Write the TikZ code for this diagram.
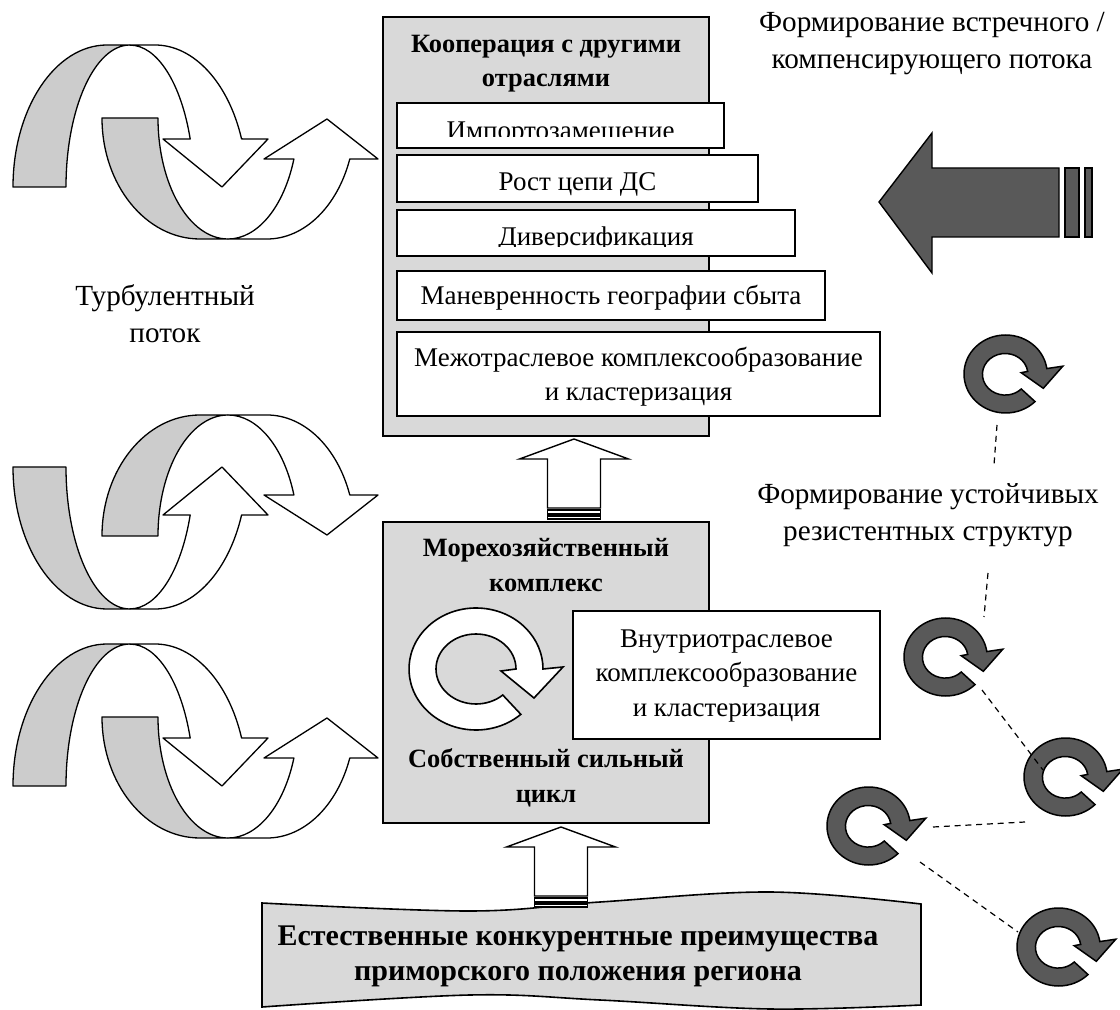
\documentclass[tikz,border=0pt]{standalone}
\usepackage{fontspec}
\setmainfont{Liberation Serif}
\usetikzlibrary{positioning}

\definecolor{boxgray}{HTML}{D9D9D9}
\definecolor{backgray}{HTML}{CCCCCC}
\definecolor{cycgray}{HTML}{595959}

\tikzset{
  panel/.style={draw, fill=boxgray, line width=0.8pt, inner sep=0pt},
  card/.style={draw, fill=white, line width=0.8pt, inner sep=0pt},
  txt/.style={font=\fontsize{13.5}{17.2}\selectfont, inner sep=0pt, align=center},
  label/.style={font=\fontsize{14.6}{18.5}\selectfont, inner sep=0pt, align=center},
  head/.style={font=\bfseries\fontsize{13.2}{17.8}\selectfont, inner sep=0pt, align=center},
  ribbon/.style={draw, line width=0.65pt, line join=round},
  link/.style={dash pattern=on 3pt off 2.4pt, line width=0.6pt},
  pics/cyc/.style={code={
    \draw[pic actions] (48:67 and 61) arc[start angle=48, end angle=360, x radius=67, y radius=61]
      -- (87,-2) -- (58,29) -- (25,2) -- (40,0)
      arc[start angle=360, end angle=48, x radius=40, y radius=35] -- cycle;
  }},
  pics/cycdark/.style={code={
    \draw[pic actions] (45:64 and 60) arc[start angle=45, end angle=352, x radius=64, y radius=60]
      -- (88,-12) -- (58,22) -- (24,-2) -- (34,-4)
      arc[start angle=352, end angle=45, x radius=35, y radius=32] -- cycle;
  }},
  pics/blockup/.style={code={
    \draw[pic actions] (0,0) -- (54.5,20) -- (26.5,20) -- (26.5,69) -- (-26.5,69) -- (-26.5,20) -- (-54.5,20) -- cycle;
    \draw[pic actions] (-26.5,71) rectangle (26.5,75);
    \draw[pic actions] (-26.5,77) rectangle (26.5,80);
  }}
}

% two ribbons of one turbulent swirl
\newcommand{\swirlpair}{%
  \filldraw[ribbon, fill=backgray] (102,118) arc[start angle=180, end angle=90, x radius=98, y radius=121]
    -- (228,239) arc[start angle=90, end angle=180, x radius=70, y radius=121] -- cycle;
  \filldraw[ribbon, fill=white] (228,239) -- (267,239) arc[start angle=90, end angle=19.8, x radius=88, y radius=121]
    -- (378,159) -- (327,119) -- (264,159) -- (293.9,159)
    arc[start angle=19.8, end angle=90, x radius=70, y radius=121] -- cycle;
  \filldraw[ribbon, fill=backgray] (13,187) arc[start angle=180, end angle=270, x radius=94, y radius=142]
    -- (130,45) arc[start angle=270, end angle=180, x radius=64, y radius=142] -- cycle;
  \filldraw[ribbon, fill=white] (130,45) -- (155,45) arc[start angle=270, end angle=340.2, x radius=92, y radius=142]
    -- (268,139) -- (222,187) -- (163,139) -- (190.2,139)
    arc[start angle=340.2, end angle=270, x radius=64, y radius=142] -- cycle;
}

\begin{document}
\begin{tikzpicture}[x=0.5pt, y=-0.5pt]
  \useasboundingbox (0,0) rectangle (1120,1010);

  % turbulent flow
  \swirlpair
  \begin{scope}[shift={(0,654)}, yscale=-1]
    \swirlpair
  \end{scope}
  \begin{scope}[shift={(0,599)}]
    \swirlpair
  \end{scope}
  \node[label] (turb) at (165,314) {Турбулентный\\поток};

  % upper block
  \node[panel, minimum width=163pt, minimum height=209.5pt] (coop) at (546,226.5) {};
  \node[head, font=\bfseries\fontsize{13.2}{17}\selectfont] (coopt) at (546,63.5) {Кооперация с другими\\отраслями};
  \node[card, minimum width=163.5pt, minimum height=22.5pt] (imp) at (560.5,125.5) {};
  \node[card, minimum width=180.5pt, minimum height=23.5pt] (ros) at (577.5,178.5) {};
  \node[card, minimum width=199pt, minimum height=23pt] (div) at (596,233) {};
  \node[card, minimum width=214pt, minimum height=24.5pt] (man) at (611,295.5) {};
  \node[card, minimum width=241.5pt, minimum height=42pt] (mezh) at (638.5,374) {};
  \begin{scope}
    \clip (397,103) rectangle (724,137);
    \node[txt, anchor=base] (impt) at (560.5,139.5) {Импортозамещение};
  \end{scope}
  \node[txt, anchor=base] (rost) at (577.5,191) {Рост цепи ДС};
  \begin{scope}
    \clip (397,210) rectangle (795,247);
    \node[txt, anchor=base] (divt) at (596,246) {Диверсификация};
  \end{scope}
  \node[txt, anchor=base] (mant) at (611,305) {Маневренность географии сбыта};
  \node[txt] (mezht) at (638.5,377) {Межотраслевое комплексообразование\\и кластеризация};

  % lower block
  \node[panel, minimum width=163pt, minimum height=150.5pt] (moreh) at (546,672.5) {};
  \node[head] (moreht) at (546,565) {Морехозяйственный\\комплекс};
  \node[head] (cyclet) at (546,778) {Собственный сильный\\цикл};
  \pic[fill=white, line width=0.8pt] at (476,669) {cyc};
  \node[card, minimum width=153.5pt, minimum height=64pt] (vnutr) at (726.5,675) {};
  \node[txt] (vnutrt) at (726.5,675.7) {Внутриотраслевое\\комплексообразование\\и кластеризация};

  % base
  \filldraw[panel] plot[smooth, tension=0.6] coordinates {(262,903) (470,911) (600,902) (770,892) (921,904)}
    -- plot[smooth, tension=0.6] coordinates {(921,1005) (770,1009) (600,1000) (470,995) (262,1007)} -- cycle;
  \node[head, font=\bfseries\fontsize{15}{17.5}\selectfont] (base) at (578,956)
    {Естественные конкурентные преимущества\\приморского положения региона};

  % block arrows
  \pic[fill=white, line width=0.7pt] at (574,439) {blockup};
  \pic[fill=white, line width=0.7pt] at (561,827) {blockup};

  % counter flow
  \filldraw[fill=cycgray, line width=0.7pt] (879,202) -- (932,133) -- (932,168) -- (1059,168) -- (1059,237)
    -- (932,237) -- (932,273) -- cycle;
  \filldraw[fill=cycgray, line width=0.7pt] (1065,168) rectangle (1079,237);
  \filldraw[fill=cycgray, line width=0.7pt] (1085,168) rectangle (1092,237);
  \node[label] (flow) at (932,43.5) {Формирование встречного /\\компенсирующего потока};

  % resistant structures
  \begin{scope}[line width=0.75pt]
    \pic[fill=cycgray, scale=0.65] at (1005.6,374) {cycdark};
    \pic[fill=cycgray, scale=0.65] at (945.6,657) {cycdark};
    \pic[fill=cycgray, scale=0.65] at (1065.6,777) {cycdark};
    \pic[fill=cycgray, scale=0.65] at (868.6,826) {cycdark};
    \pic[fill=cycgray, scale=0.65] at (1058.6,947) {cycdark};
  \end{scope}
  \node[label] (resist) at (928,515.5) {Формирование устойчивых\\резистентных структур};

  \coordinate (r1) at (997,425);
  \coordinate (r2) at (994,465);
  \coordinate (r3) at (988,573);
  \coordinate (r4) at (984,617);
  \coordinate (r5) at (982,690);
  \coordinate (r6) at (1043,770);
  \coordinate (r7) at (933,827);
  \coordinate (r8) at (1025,822);
  \coordinate (r9) at (920,862);
  \coordinate (r10) at (1018,932);
  \draw[link] (r1) -- (r2);
  \draw[link] (r3) -- (r4);
  \draw[link] (r5) -- (r6);
  \draw[link] (r7) -- (r8);
  \draw[link] (r9) -- (r10);
\end{tikzpicture}
\end{document}
